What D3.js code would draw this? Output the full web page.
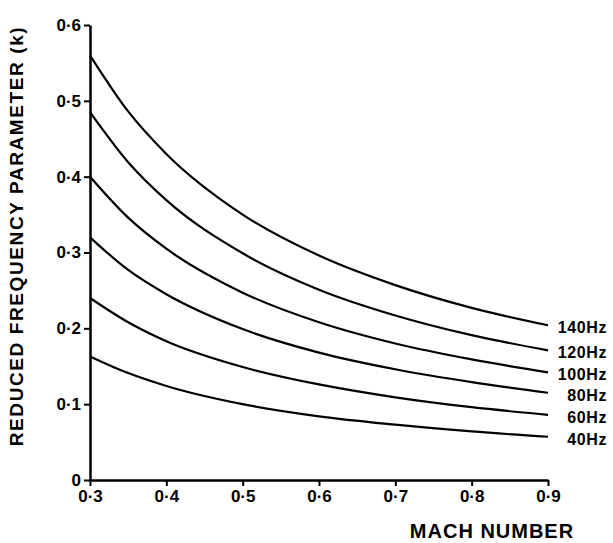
<!DOCTYPE html>
<html><head><meta charset="utf-8">
<script src="https://cdn.jsdelivr.net/npm/d3@7"></script>
<style>body{margin:0;background:#fff}svg{display:block}text{font-family:"Liberation Sans",Arial,sans-serif;font-weight:bold;fill:#000}</style>
</head><body><svg id="c" width="613" height="543"></svg>
<script>
const mach = [0.3, 0.35, 0.4, 0.5, 0.6, 0.7, 0.8, 0.9];
const seriesNames = ["140Hz", "120Hz", "100Hz", "80Hz", "60Hz", "40Hz"];
const k140 = [0.560, 0.486, 0.430, 0.350, 0.296, 0.257, 0.227, 0.204];
const k120 = [0.485, 0.419, 0.369, 0.299, 0.251, 0.217, 0.191, 0.171];
const k100 = [0.400, 0.346, 0.305, 0.247, 0.208, 0.180, 0.159, 0.142];
const k80  = [0.320, 0.277, 0.245, 0.199, 0.168, 0.146, 0.129, 0.115];
const k60  = [0.240, 0.208, 0.183, 0.149, 0.126, 0.109, 0.096, 0.086];
const k40  = [0.163, 0.141, 0.124, 0.100, 0.084, 0.073, 0.064, 0.057];
const xTicks = [0.3, 0.4, 0.5, 0.6, 0.7, 0.8, 0.9];
const xTickLabels = ["0·3", "0·4", "0·5", "0·6", "0·7", "0·8", "0·9"];
const yTicks = [0, 0.1, 0.2, 0.3, 0.4, 0.5, 0.6];
const yTickLabels = ["0", "0·1", "0·2", "0·3", "0·4", "0·5", "0·6"];
const allSeries = [k140, k120, k100, k80, k60, k40];

const svg = d3.select("#c");
const x = d3.scaleLinear().domain([0.3, 0.9]).range([90, 548]);
const y = d3.scaleLinear().domain([0, 0.6]).range([480, 25]);

const xAxis = d3.axisBottom(x).tickValues(xTicks).tickFormat((d, i) => xTickLabels[i]).tickSize(6).tickSizeOuter(0).tickPadding(4);
const gx = svg.append("g").attr("transform", "translate(0,480)").call(xAxis);
gx.select(".domain").attr("stroke-width", 2.5);
gx.selectAll(".tick line").attr("stroke-width", 2);
gx.selectAll("text").style("font-size", "17px").attr("font-family", null).attr("fill", "#000");

const yAxis = d3.axisLeft(y).tickValues(yTicks).tickFormat((d, i) => yTickLabels[i]).tickSize(6).tickSizeOuter(0).tickPadding(3);
const gy = svg.append("g").attr("transform", "translate(90,0)").call(yAxis);
gy.select(".domain").attr("stroke-width", 2.5);
gy.selectAll(".tick line").attr("stroke-width", 2);
gy.selectAll("text").style("font-size", "17px").attr("font-family", null).attr("fill", "#000");

const line = d3.line().x((d, i) => x(mach[i])).y(d => y(d)).curve(d3.curveMonotoneX);
svg.append("g").selectAll("path").data(allSeries).join("path")
  .attr("d", d => line(d)).attr("fill", "none").attr("stroke", "#000").attr("stroke-width", 2.2);

svg.append("g").selectAll("text").data(allSeries).join("text")
  .attr("x", 607).attr("y", d => y(d[d.length - 1]) + 8)
  .attr("text-anchor", "end").style("font-size", "16px").style("letter-spacing", "0.6px")
  .text((d, i) => seriesNames[i]);

svg.append("text").attr("x", 492).attr("y", 538).attr("text-anchor", "middle").style("font-size", "20px").style("letter-spacing", "1px").text("MACH NUMBER");
svg.append("text").attr("transform", "translate(23,236) rotate(-90)").attr("text-anchor", "middle").style("font-size", "19px").style("letter-spacing", "1.6px").text("REDUCED FREQUENCY PARAMETER (k)");
</script></body></html>
